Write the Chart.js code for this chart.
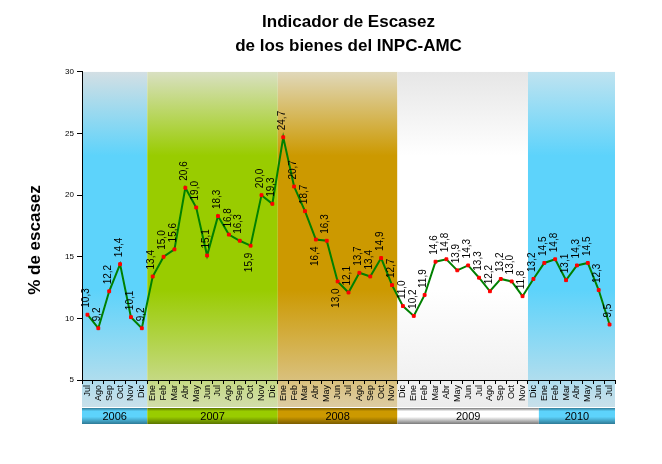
<!DOCTYPE html>
<html>
<head>
<meta charset="utf-8">
<script src="https://cdn.jsdelivr.net/npm/chart.js@4.4.0/dist/chart.umd.min.js"></script>
<style>
  html, body { margin: 0; padding: 0; background: #fff; }
  #wrap { width: 662px; height: 464px; }
</style>
</head>
<body>
<div id="wrap"><canvas id="chart"></canvas></div>
<script>
// monthly values, Jul 2006 - Jul 2010
const months = [
    "Jul", "Ago", "Sep", "Oct", "Nov", "Dic",
    "Ene", "Feb", "Mar", "Abr", "May", "Jun", "Jul", "Ago", "Sep", "Oct", "Nov", "Dic",
    "Ene", "Feb", "Mar", "Abr", "May", "Jun", "Jul", "Ago", "Sep", "Oct", "Nov", "Dic",
    "Ene", "Feb", "Mar", "Abr", "May", "Jun", "Jul", "Ago", "Sep", "Oct", "Nov", "Dic",
    "Ene", "Feb", "Mar", "Abr", "May", "Jun", "Jul"
];
const escasez = [
    10.3, 9.2, 12.2, 14.4, 10.1, 9.2,
    13.4, 15.0, 15.6, 20.6, 19.0, 15.1, 18.3, 16.8, 16.3, 15.9, 20.0, 19.3,
    24.7, 20.7, 18.7, 16.4, 16.3, 13.0, 12.1, 13.7, 13.4, 14.9, 12.7, 11.0,
    10.2, 11.9, 14.6, 14.8, 13.9, 14.3, 13.3, 12.2, 13.2, 13.0, 11.8, 13.2,
    14.5, 14.8, 13.1, 14.3, 14.5, 12.3, 9.5
];
const years = ["2006", "2007", "2008", "2009", "2010"];
// month index where each year's shading starts / ends (as drawn in the original)
const yearFirst = [0, 6, 18, 29, 41];
const yearLast = [5, 17, 28, 40, 48];
// the year bar below the axis is split a little differently
const barFirst = [0, 6, 18, 29, 42];
const barLast = [5, 17, 28, 41, 48];
const yTicks = [5, 10, 15, 20, 25, 30];

const FONT = '"Liberation Sans", Arial, sans-serif';

// colours for each year: band top / middle / bottom, bar edge / middle
const yearColors = [
    { top: "#d3dfe4", mid: "#5dd3fb", bot: "#c8e0ea", edge: "#2e7a96", bar: "#5dd3fb" },
    { top: "#d9e0c2", mid: "#99cc00", bot: "#d2ddaa", edge: "#5a7400", bar: "#99cc00" },
    { top: "#e0d8ba", mid: "#cc9900", bot: "#ddcca2", edge: "#7a5c00", bar: "#cc9900" },
    { top: "#e6e6e6", mid: "#ffffff", bot: "#ececec", edge: "#7a7a7a", bar: "#ffffff" },
    { top: "#bfe3f0", mid: "#5dd3fb", bot: "#c8e0ea", edge: "#2e7a96", bar: "#5dd3fb" }
];
const labelBelow = [15, 21, 23];

const bandsPlugin = {
    id: "bands",
    beforeDraw(chart) {
        let ctx = chart.ctx;
        let area = chart.chartArea;
        let xs = chart.scales.x;
        let half = (xs.getPixelForValue(1) - xs.getPixelForValue(0)) / 2;
        let bandBottom = area.bottom + 27;
        let barTop = bandBottom + 1, barBottom = bandBottom + 17;
        ctx.save();
        years.forEach((yr, i) => {
            let c = yearColors[i];
            let x0 = xs.getPixelForValue(yearFirst[i]) - half;
            let x1 = xs.getPixelForValue(yearLast[i]) + half;
            let g = ctx.createLinearGradient(0, area.top, 0, bandBottom);
            g.addColorStop(0, c.top);
            g.addColorStop(0.25, c.mid);
            g.addColorStop(0.65, c.mid);
            g.addColorStop(1, c.bot);
            ctx.fillStyle = g;
            ctx.fillRect(x0, area.top, x1 - x0, bandBottom - area.top);

            // year bar under the month labels
            let b0 = xs.getPixelForValue(barFirst[i]) - half;
            let b1 = xs.getPixelForValue(barLast[i]) + half;
            let gb = ctx.createLinearGradient(0, barTop, 0, barBottom);
            gb.addColorStop(0, c.edge);
            gb.addColorStop(0.2, c.bar);
            gb.addColorStop(0.55, c.bar);
            gb.addColorStop(1, c.edge);
            ctx.fillStyle = gb;
            ctx.fillRect(b0, barTop, b1 - b0, barBottom - barTop);
            ctx.fillStyle = "#000";
            ctx.font = "11px " + FONT;
            ctx.textAlign = "center";
            ctx.textBaseline = "middle";
            ctx.fillText(yr, (b0 + b1) / 2, (barTop + barBottom) / 2 + 1);
        });
        ctx.restore();
    },
    afterDraw(chart) {
        let ctx = chart.ctx;
        ctx.save();
        ctx.translate(35, 240);
        ctx.rotate(-Math.PI / 2);
        ctx.font = "bold 17px " + FONT;
        ctx.fillStyle = "#000";
        ctx.textAlign = "center";
        ctx.textBaseline = "middle";
        ctx.fillText("% de escasez", 0, 0);
        ctx.restore();
    }
};

const valueLabels = {
    id: "valueLabels",
    afterDatasetsDraw(chart) {
        let ctx = chart.ctx;
        let meta = chart.getDatasetMeta(0);
        ctx.save();
        ctx.font = "10px " + FONT;
        ctx.fillStyle = "#000";
        ctx.textBaseline = "middle";
        meta.data.forEach((pt, i) => {
            let below = labelBelow.includes(i);
            let txt = escasez[i].toFixed(1).replace(".", ",");
            ctx.save();
            ctx.translate(pt.x - 1, pt.y + (below ? 7 : -7));
            ctx.rotate(-Math.PI / 2);
            ctx.textAlign = below ? "right" : "left";
            ctx.fillText(txt, 0, 0);
            ctx.restore();
        });
        ctx.restore();
    }
};

new Chart(document.getElementById("chart"), {
    type: "line",
    data: {
        labels: months,
        datasets: [{
            data: escasez,
            borderColor: "#008000",
            borderWidth: 2,
            tension: 0,
            pointStyle: "rect",
            pointRadius: 2,
            pointBackgroundColor: "#ff0000",
            pointBorderColor: "#ff0000",
            pointBorderWidth: 1
        }]
    },
    options: {
        responsive: true,
        maintainAspectRatio: false,
        animation: false,
        layout: { padding: { left: 0, right: 47, top: 0, bottom: 0 } },
        plugins: {
            legend: { display: false },
            tooltip: { enabled: false },
            title: {
                display: true,
                fullSize: false,
                text: ["Indicador de Escasez", "de los bienes del INPC-AMC"],
                color: "#000",
                font: { family: FONT, size: 17, weight: "bold", lineHeight: 1.41 },
                padding: { top: 10, bottom: 14 }
            }
        },
        scales: {
            x: {
                offset: true,
                grid: { offset: true, drawOnChartArea: false, tickLength: 4, color: "#000" },
                border: { color: "#000", width: 1 },
                ticks: {
                    autoSkip: false, minRotation: 90, maxRotation: 90, padding: 1,
                    color: "#000", font: { family: FONT, size: 9 }
                },
                afterFit(scale) { scale.height = 84; }
            },
            y: {
                min: yTicks[0],
                max: yTicks[yTicks.length - 1],
                grid: { drawOnChartArea: false, tickLength: 5, color: "#000" },
                border: { color: "#000", width: 1 },
                ticks: {
                    stepSize: yTicks[1] - yTicks[0], padding: 3,
                    color: "#000", font: { family: FONT, size: 8 }
                },
                afterFit(scale) { scale.width = 82; }
            }
        }
    },
    plugins: [bandsPlugin, valueLabels]
});
</script>
</body>
</html>
